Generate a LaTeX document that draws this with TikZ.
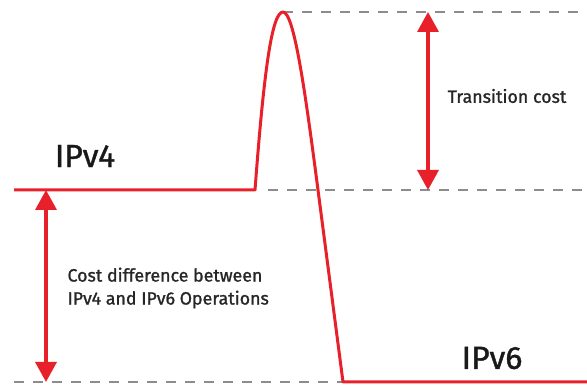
\documentclass[tikz,border=0pt]{standalone}
\usepackage{fontspec}
\setmainfont{Fira Sans}
\newfontfamily\labelfont{Fira Sans}[FakeBold=1.2]
\usetikzlibrary{arrows.meta}

\definecolor{curvered}{HTML}{E8202A}
\definecolor{dashgray}{HTML}{8C8C8C}

\begin{document}
\begin{tikzpicture}[x=1pt,y=-1pt,
  level/.style={curvered,line width=3pt,line join=round},
  guide/.style={dashgray,line width=2pt,dash pattern=on 10pt off 9pt},
  costarrow/.style={curvered,line width=3.5pt,{Triangle[width=21pt,length=20pt]}-{Triangle[width=21pt,length=20pt]}},
  biglabel/.style={font=\labelfont\fontsize{32}{36}\selectfont,text=black!90},
  smalllabel/.style={font=\labelfont\fontsize{17.8}{23}\selectfont,text=black!85,align=left}]
\useasboundingbox (0,0) rectangle (587,387);
\coordinate (v4start) at (14,190);
\coordinate (v4end) at (255,190);
\coordinate (peak) at (283,12);
\coordinate (cross) at (318,190);
\coordinate (v6start) at (343,382);
\coordinate (v6end) at (587,382);
% guide lines
\draw[guide] (peak) -- (587,12) coordinate (topright);
\draw[guide] (268,190) -- (587,190) coordinate (midright);
\draw[guide] (14,382) coordinate (botleft) -- (v6start);
% cost curve
\draw[level] (v4start) -- (v4end) .. controls (264,70) and (272,12) .. (peak)
  .. controls (294,12) and (305,90) .. (cross) -- (v6start) -- (v6end);
% arrows
\coordinate (ttop) at (428,12);
\coordinate (tbot) at (428,190);
\coordinate (dtop) at (46,190);
\coordinate (dbot) at (46,382);
\draw[costarrow] (ttop) -- (tbot);
\draw[costarrow] (dtop) -- (dbot);
% labels
\node[biglabel] (ipv4) at (85,156) {IPv4};
\node[biglabel] (ipv6) at (492,358) {IPv6};
\node[smalllabel] (transition) at (507,96) {Transition cost};
\node[smalllabel,anchor=west] (difference) at (64,288) {Cost difference between\\IPv4 and IPv6 Operations};
\end{tikzpicture}
\end{document}
